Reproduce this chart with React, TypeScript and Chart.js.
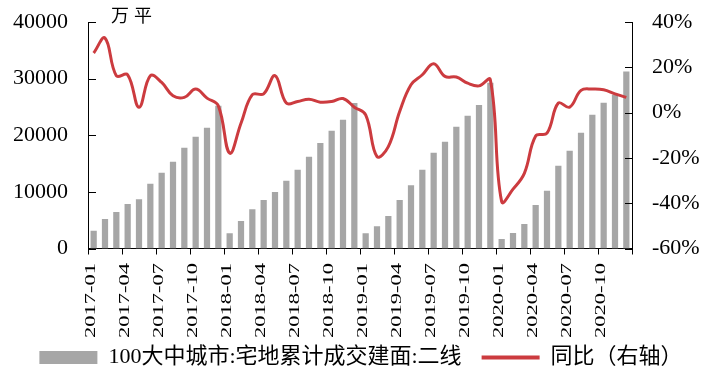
import React, { useEffect, useRef } from 'react';
import { Chart, registerables } from 'chart.js';

Chart.register(...registerables);

const categories = [
  '2017-01', '2017-02', '2017-03', '2017-04', '2017-05', '2017-06', '2017-07', '2017-08', '2017-09', '2017-10', '2017-11', '2017-12',
  '2018-01', '2018-02', '2018-03', '2018-04', '2018-05', '2018-06', '2018-07', '2018-08', '2018-09', '2018-10', '2018-11', '2018-12',
  '2019-01', '2019-02', '2019-03', '2019-04', '2019-05', '2019-06', '2019-07', '2019-08', '2019-09', '2019-10', '2019-11', '2019-12',
  '2020-01', '2020-02', '2020-03', '2020-04', '2020-05', '2020-06', '2020-07', '2020-08', '2020-09', '2020-10', '2020-11', '2020-12',
];

const areaValues = [
  3150, 5220, 6460, 7880, 8710, 11420, 13360, 15310, 17790, 19740, 21330, 25220,
  2690, 4870, 6940, 8580, 10000, 11950, 13900, 16200, 18620, 20800, 22750, 25700,
  2690, 3930, 5750, 8580, 11190, 13900, 16900, 18850, 21500, 23450, 25350, 29290,
  1680, 2740, 4340, 7700, 10180, 14600, 17260, 20440, 23630, 25750, 27170, 31240,
];

const yoyValues = [
  26.3, 32.9, 16.3, 16.7, 2.4, 16.3, 13.3, 7.4, 6.7, 10.4, 6.4, 3.0,
  -17.9, -4.7, 7.9, 8.3, 16.3, 4.2, 4.9, 5.9, 4.6, 4.9, 6.2, 2.4,
  -1.0, -19.4, -15.0, 0.5, 12.3, 16.7, 21.6, 16.0, 15.7, 13.0, 11.8, 14.5,
  -39.3, -33.8, -26.8, -10.3, -9.1, 4.2, 2.4, 9.8, 10.4, 10.1, 8.3, 6.7,
];

const barLabel = '100大中城市:宅地累计成交建面:二线';
const lineLabel = '同比（右轴）';
const unitChars = ['万', '平'];

const BAR_COLOR = '#a6a6a6';
const LINE_COLOR = '#cc3b3f';
const SERIF = '"Liberation Serif", "Times New Roman", serif';

const decorPlugin = {
  id: 'decor',
  afterDraw(chart: any) {
    const { ctx, chartArea, scales } = chart;
    const y = scales.y;
    const y1 = scales.y1;
    const x = scales.x;
    ctx.save();
    ctx.strokeStyle = '#000';
    ctx.lineWidth = 1;
    y.ticks.forEach((t: any) => {
      const py = Math.round(y.getPixelForValue(t.value)) + 0.5;
      ctx.beginPath();
      ctx.moveTo(chartArea.left, py);
      ctx.lineTo(chartArea.left + 8, py);
      ctx.stroke();
    });
    y1.ticks.forEach((t: any) => {
      const py = Math.round(y1.getPixelForValue(t.value)) + 0.5;
      ctx.beginPath();
      ctx.moveTo(chartArea.right - 7, py);
      ctx.lineTo(chartArea.right, py);
      ctx.stroke();
    });
    // x labels (rotated, condensed)
    ctx.fillStyle = '#000';
    ctx.font = '22px ' + SERIF;
    ctx.textAlign = 'right';
    ctx.textBaseline = 'alphabetic';
    categories.forEach((c, i) => {
      if (i % 3 !== 0) return;
      const px = x.getPixelForValue(i);
      const w = ctx.measureText(c).width || 73;
      const su = 75 / w;
      ctx.save();
      ctx.translate(px + 1, chartArea.bottom + 14.5);
      ctx.rotate(-Math.PI / 2);
      ctx.scale(su, 0.68);
      ctx.fillText(c, 0, 0);
      ctx.restore();
    });
    // unit label
    ctx.font = '18px "Noto Sans CJK SC", sans-serif';
    ctx.textAlign = 'left';
    ctx.textBaseline = 'middle';
    ctx.fillText(unitChars[0], 111, 15);
    ctx.fillText(unitChars[1], 134, 15);
    ctx.restore();
  },
};

export default function App() {
  const canvasRef = useRef<HTMLCanvasElement | null>(null);

  useEffect(() => {
    const canvas = canvasRef.current;
    if (!canvas) return;
    const chart = new Chart(canvas, {
      type: 'bar',
      data: {
        labels: categories,
        datasets: [
          {
            type: 'bar',
            label: barLabel,
            data: areaValues,
            backgroundColor: BAR_COLOR,
            borderWidth: 0,
            barPercentage: 0.55,
            categoryPercentage: 1.0,
            yAxisID: 'y',
            order: 1,
          },
          {
            type: 'line',
            label: lineLabel,
            data: yoyValues,
            borderColor: LINE_COLOR,
            backgroundColor: LINE_COLOR,
            borderWidth: 3,
            pointRadius: 0,
            tension: 0.4,
            fill: false,
            yAxisID: 'y1',
            order: 0,
          },
        ],
      } as any,
      options: {
        responsive: true,
        maintainAspectRatio: false,
        animation: false,
        layout: { padding: { top: 22, left: 0, right: 0, bottom: 8.5 } },
        plugins: {
          tooltip: { enabled: false },
          legend: {
            position: 'bottom',
            maxHeight: 50,
            labels: {
              usePointStyle: true,
              pointStyleWidth: 58,
              boxWidth: 58,
              boxHeight: 13,
              padding: 20,
              color: '#000',
              font: { size: 22, family: SERIF + ', "Noto Sans CJK SC"' },
              generateLabels: () => [
                {
                  text: barLabel,
                  fillStyle: BAR_COLOR,
                  strokeStyle: BAR_COLOR,
                  lineWidth: 0,
                  pointStyle: 'rect',
                  datasetIndex: 0,
                  hidden: false,
                },
                {
                  text: lineLabel,
                  fillStyle: LINE_COLOR,
                  strokeStyle: LINE_COLOR,
                  lineWidth: 4,
                  pointStyle: 'line',
                  datasetIndex: 1,
                  hidden: false,
                },
              ],
            },
          },
        },
        scales: {
          x: {
            type: 'category',
            offset: true,
            grid: {
              display: true,
              offset: true,
              drawOnChartArea: false,
              drawTicks: true,
              tickLength: 6,
              color: (ctx: any) =>
                ctx.index === undefined || ctx.index % 3 === 0 ? '#000' : 'rgba(0,0,0,0)',
            },
            border: { display: true, color: '#000', width: 1 },
            ticks: { display: false, autoSkip: false },
            afterFit: (s: any) => {
              s.height = 78;
            },
          },
          y: {
            position: 'left',
            min: 0,
            max: 40000,
            ticks: {
              stepSize: 10000,
              padding: 8,
              color: '#000',
              font: { size: 22, family: SERIF },
              callback: (v: any) => String(v),
            },
            grid: { display: false, drawTicks: true, tickLength: 12 },
            border: { display: true, color: '#000', width: 1 },
            afterFit: (s: any) => {
              s.width = 88;
            },
          },
          y1: {
            position: 'right',
            min: -60,
            max: 40,
            ticks: {
              stepSize: 20,
              padding: 8,
              color: '#000',
              font: { size: 22, family: SERIF },
              callback: (v: any) => v + '%',
            },
            grid: { display: false, drawTicks: true, tickLength: 12 },
            border: { display: true, color: '#000', width: 1 },
            afterFit: (s: any) => {
              s.width = 90;
            },
          },
        },
      } as any,
      plugins: [decorPlugin],
    });
    return () => chart.destroy();
  }, []);

  return (
    <div style={{ position: 'absolute', left: 0, top: 0, width: 722, height: 385, background: '#fff' }}>
      <canvas ref={canvasRef} />
    </div>
  );
}
